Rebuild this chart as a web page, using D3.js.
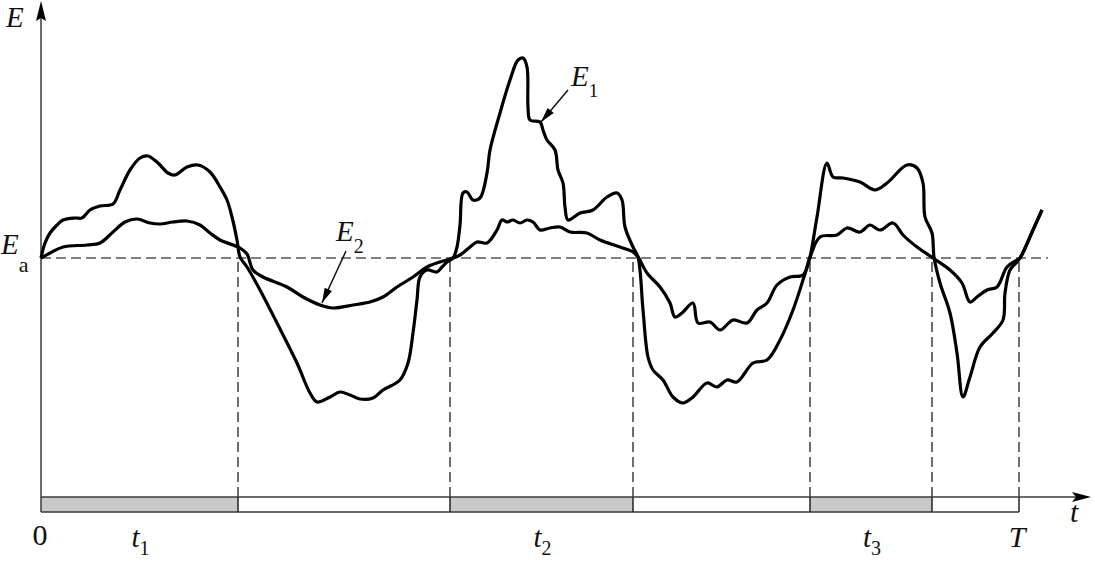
<!DOCTYPE html>
<html>
<head>
<meta charset="utf-8">
<script src="https://cdn.jsdelivr.net/npm/d3@7"></script>
<style>
  html, body { margin: 0; padding: 0; background: #fff; }
  svg { display: block; }
  text { font-family: "Liberation Serif", "DejaVu Serif", serif; fill: #111; }
</style>
</head>
<body>
<svg id="chart" width="1095" height="563"></svg>
<script>
// ---- data (t measured from 0, E measured relative to Ea) ----
const e1Points = [
  [0,0],[4,15],[9,25],[16,33],[22,38],[34,40],[41,40],[49,48],[59,52],[72,54],
  [79,68],[89,88],[99,100],[107,102],[117,95],[127,85],[134,83],[146,91],[157,93],
  [169,86],[179,71],[186,58],[191,41],[196,18],[199,1],[206,-9],[219,-32],[236,-65],
  [256,-105],[269,-135],[276,-144],[289,-139],[299,-134],[309,-137],[319,-141],
  [332,-140],[342,-132],[359,-122],[367,-105],[372,-75],[376,-42],[379,-19],
  [386,-12],[396,-14],[401,-9],[406,-4],[412,0],[416,11],[419,33],[422,65],[426,66],
  [432,58],[439,60],[446,85],[449,108],[459,145],[469,178],[477,198],[482,200],
  [486,191],[487,151],[489,138],[499,136],[502,128],[506,118],[514,108],[517,88],
  [522,75],[524,51],[527,38],[539,45],[552,48],[566,61],[576,65],[581,58],[584,31],
  [592,11],[597,1],[602,-52],[607,-99],[612,-112],[622,-122],[632,-139],[642,-145],
  [652,-139],[666,-125],[676,-129],[686,-122],[696,-124],[712,-105],[726,-102],
  [739,-82],[752,-52],[762,-22],[769,1],[776,41],[786,95],[792,81],[802,80],
  [819,76],[834,68],[846,75],[866,93],[876,90],[882,75],[884,41],[891,25],[893,1],
  [899,-25],[909,-55],[916,-95],[922,-139],[929,-119],[939,-89],[952,-75],[962,-62],
  [964,-35],[969,-12],[976,-4],[979,0],[992,28],[1001,48]
];
const e2Points = [
  [0,0],[9,5],[22,11],[46,13],[59,15],[72,26],[84,36],[96,39],[109,35],[119,34],
  [132,36],[146,37],[159,33],[169,25],[179,18],[192,13],[199,10],[206,4],[212,-12],
  [222,-19],[246,-29],[262,-39],[279,-47],[292,-50],[312,-47],[329,-44],[342,-39],
  [356,-29],[372,-19],[386,-9],[399,-4],[409,-1],[419,3],[429,11],[436,16],[446,15],
  [456,28],[461,38],[466,36],[472,38],[479,35],[486,38],[492,36],[499,28],[509,30],
  [519,31],[529,26],[546,25],[559,18],[579,11],[592,6],[597,1],[606,-15],[619,-29],
  [629,-45],[634,-59],[641,-55],[652,-45],[657,-65],[669,-64],[679,-72],[692,-62],
  [706,-65],[716,-52],[726,-45],[736,-27],[749,-19],[762,-17],[769,1],[779,21],
  [796,23],[806,30],[819,26],[829,33],[839,28],[852,35],[862,23],[876,11],[892,0],
  [909,-12],[921,-25],[929,-44],[936,-39],[946,-32],[956,-29],[966,-9],[976,-2],
  [979,0],[992,28],[1001,48]
];
const crossTimes = [197, 409, 592, 769, 891, 978];   // instants where E crosses Ea
const onIntervals = [[0,197],[409,592],[769,891]];    // shaded intervals t1, t2, t3
const intervalLabels = ["1","2","3"];
const periodT = 978;
const eaValue = 0;
const dashEnd = 1007;

// ---- scales ----
const svg = d3.select("#chart");
const x = d3.scaleLinear().domain([0, 1049]).range([41, 1090]);
const y = d3.scaleLinear().domain([-239, 256]).range([497, 2]);
const x0 = x(0), yAxis = y(-239), barH = 15;

// ---- Ea dashed line and vertical dashed lines ----
const dashStyle = sel => sel.attr("stroke", "#555").attr("stroke-width", 1.7)
  .attr("stroke-dasharray", "10,5").attr("fill", "none");
svg.append("line").attr("x1", x0).attr("x2", x(dashEnd))
  .attr("y1", y(eaValue)).attr("y2", y(eaValue)).call(dashStyle);
svg.selectAll("line.vdash").data(crossTimes).join("line").attr("class", "vdash")
  .attr("x1", d => x(d)).attr("x2", d => x(d))
  .attr("y1", y(eaValue) + 4).attr("y2", yAxis).call(dashStyle);

// ---- timing bar ----
svg.selectAll("rect.on").data(onIntervals).join("rect").attr("class", "on")
  .attr("x", d => x(d[0])).attr("width", d => x(d[1]) - x(d[0]))
  .attr("y", yAxis).attr("height", barH).attr("fill", "#c9c9c9");
const axisColor = "#3a3a3a";
svg.append("line").attr("x1", x0).attr("x2", x(periodT))
  .attr("y1", yAxis + barH).attr("y2", yAxis + barH)
  .attr("stroke", axisColor).attr("stroke-width", 1.5);
svg.selectAll("line.tick").data(crossTimes).join("line").attr("class", "tick")
  .attr("x1", d => x(d)).attr("x2", d => x(d))
  .attr("y1", yAxis).attr("y2", yAxis + barH)
  .attr("stroke", "#222").attr("stroke-width", 1.5);

// ---- axes ----
svg.append("line").attr("x1", x0).attr("x2", x0)
  .attr("y1", 18).attr("y2", yAxis + barH)
  .attr("stroke", axisColor).attr("stroke-width", 1.5);
svg.append("line").attr("x1", x0).attr("x2", 1078)
  .attr("y1", yAxis).attr("y2", yAxis)
  .attr("stroke", axisColor).attr("stroke-width", 1.5);
svg.append("path").attr("d", `M${x0},1 L${x0-5},21 L${x0},18 L${x0+5},21 Z`).attr("fill", "#000");
svg.append("path").attr("d", `M1091,${yAxis} L1072,${yAxis-5} L1076,${yAxis} L1072,${yAxis+5} Z`).attr("fill", "#000");

// ---- curves ----
const line = d3.line().x(d => x(d[0])).y(d => y(d[1])).curve(d3.curveCatmullRom.alpha(0.5));
svg.append("path").datum(e2Points).attr("d", line)
  .attr("fill", "none").attr("stroke", "#000").attr("stroke-width", 3.2).attr("stroke-linejoin", "round");
svg.append("path").datum(e1Points).attr("d", line)
  .attr("fill", "none").attr("stroke", "#000").attr("stroke-width", 3.2).attr("stroke-linejoin", "round");

// ---- callout arrows ----
function arrow(x1, y1, x2, y2) {
  svg.append("line").attr("x1", x1).attr("y1", y1).attr("x2", x2).attr("y2", y2)
    .attr("stroke", "#111").attr("stroke-width", 1.5);
  const a = Math.atan2(y2 - y1, x2 - x1), L = 15, W = 4;
  const bx = x2 - L * Math.cos(a), by = y2 - L * Math.sin(a);
  const px = -Math.sin(a) * W, py = Math.cos(a) * W;
  svg.append("path").attr("d", `M${x2},${y2} L${bx+px},${by+py} L${bx-px},${by-py} Z`).attr("fill", "#000");
}
arrow(568, 90, 541, 122);
arrow(346, 251, 322, 303);

// ---- text ----
function sub(xp, yp, main, s, opts = {}) {
  const t = svg.append("text").attr("x", xp).attr("y", yp)
    .attr("font-size", opts.size || 29).attr("text-anchor", opts.anchor || "start");
  t.append("tspan").attr("font-style", opts.mainStyle || "italic").text(main);
  if (s) t.append("tspan").attr("font-size", opts.subSize || 20)
    .attr("font-style", opts.subStyle || "normal").attr("dy", opts.dy || 7).text(s);
  return t;
}
sub(6, 27, "E");
sub(1, 254, "E", "a", { subStyle: "normal", dy: 18, subSize: 22 });
sub(571, 86, "E", "1", { dy: 11, subSize: 19 });
sub(336, 241, "E", "2", { dy: 12, subSize: 20 });
svg.append("text").attr("x", x0 - 1).attr("y", 545).attr("text-anchor", "middle")
  .attr("font-size", 30).text("0");
svg.selectAll("g.tl").data(onIntervals).join("g").attr("class", "tl")
  .each(function (d, i) {
    const cx = (x(d[0]) + x(d[1])) / 2;
    sub(cx - 8, 547, "t", intervalLabels[i], { dy: 8, subSize: 20 });
  });
svg.append("text").attr("x", x(periodT) - 2).attr("y", 547).attr("text-anchor", "middle")
  .attr("font-size", 30).attr("font-style", "italic").text("T");
svg.append("text").attr("x", 1070).attr("y", 522)
  .attr("font-size", 30).attr("font-style", "italic").text("t");
</script>
</body>
</html>
